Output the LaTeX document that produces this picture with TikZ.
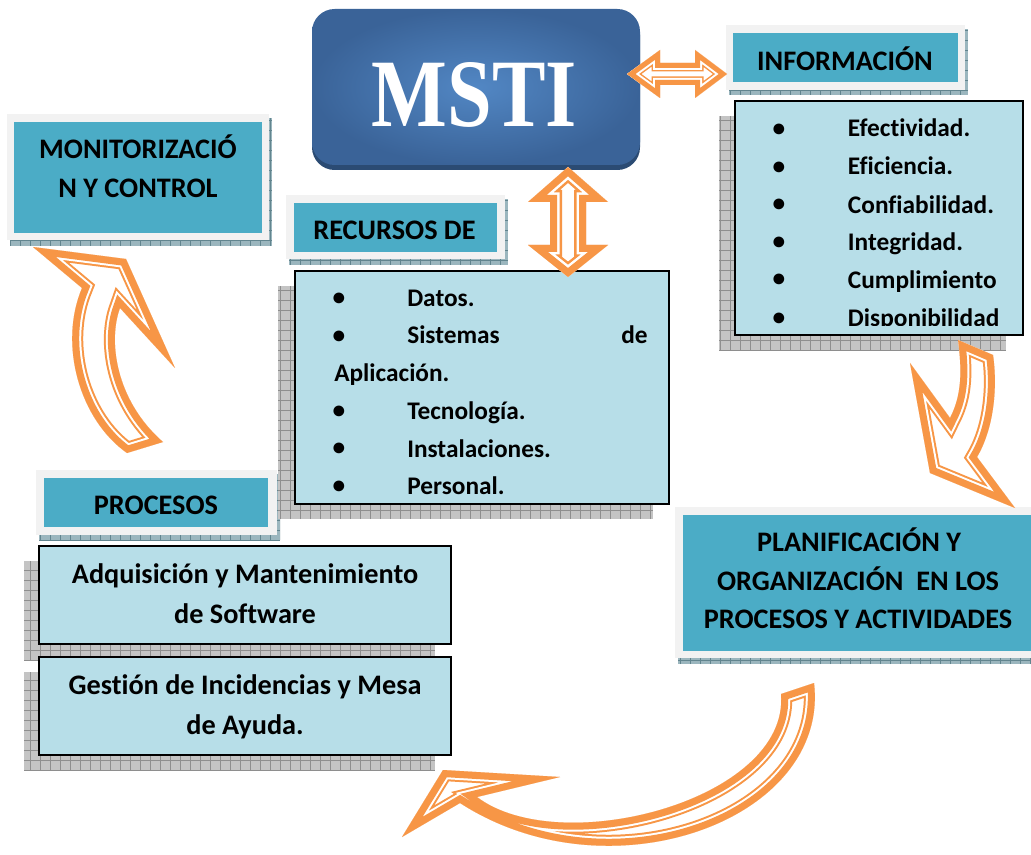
\documentclass[tikz,border=0pt]{standalone}
\usepackage{fontspec}
\setmainfont{Carlito}[Ligatures={NoCommon}]
\newfontfamily\mstifont{Liberation Serif}
\definecolor{tealc}{HTML}{4BACC6}
\definecolor{lblue}{HTML}{B7DEE8}
\definecolor{frameg}{HTML}{F2F2F2}
\definecolor{orangec}{HTML}{F79646}
\definecolor{mstiin}{HTML}{5287C4}
\definecolor{mstiout}{HTML}{3A6398}
\definecolor{mstibase}{HTML}{2B4B73}
\definecolor{hshad}{HTML}{9BB6BE}
\definecolor{hline}{HTML}{62858F}
\definecolor{lshad}{HTML}{C4C4C4}
\definecolor{lline}{HTML}{8E8E8E}
% x1 y1 x2 y2 (pixel coords, y down), fill colour, line colour
\newcommand{\gridshadow}[6]{%
  \begin{scope}
    \clip (#1,#2) rectangle (#3,#4);
    \fill[#5] (#1,#2) rectangle (#3,#4);
    \draw[#6, line width=0.4pt, step=7.5pt] (#1,#4) grid (#3,#2);
  \end{scope}}
% path, outer width, middle width, inner width
\newcommand{\fancyarrow}[4]{%
  \begin{scope}
    \clip #1;
    \fill[white] #1;
    \draw[orangec, line width=#2, miter limit=25] #1;
    \draw[white, line width=#3, miter limit=25] #1;
    \draw[orangec, line width=#4, miter limit=25] #1;
  \end{scope}}
\begin{document}
\begin{tikzpicture}[x=0.75pt,y=-0.75pt,
  hdrtxt/.style={font=\bfseries\fontsize{21.2}{25}\selectfont, inner sep=0pt, text height=13.4pt, text depth=0pt},
  listtxt/.style={font=\bfseries\fontsize{19}{23}\selectfont, inner sep=0pt, text height=12pt, text depth=0pt, anchor=west},
  bul/.style={font=\bfseries\fontsize{19}{23}\selectfont, inner sep=0pt},
  hdrframe/.style={fill=frameg},
  hdrbox/.style={fill=tealc},
  listbox/.style={fill=lblue, draw=black, line width=1.5pt}]

\clip (0,0) rectangle (1031,855);
\fill[white] (0,0) rectangle (1031,855);

% ---------- shadows ----------
\gridshadow{10}{118}{272}{246}{hshad}{hline}
\gridshadow{729}{29}{968}{95}{hshad}{hline}
\gridshadow{289}{199}{508}{265}{hshad}{hline}
\gridshadow{39}{474}{280}{540}{hshad}{hline}
\gridshadow{678}{511}{1043}{664}{hshad}{hline}
\gridshadow{719}{116}{1006}{351}{lshad}{lline}
\gridshadow{278}{286}{653}{519}{lshad}{lline}
\gridshadow{24}{561}{435}{660}{lshad}{lline}
\gridshadow{24}{672}{435}{770}{lshad}{lline}

% ---------- header boxes ----------
\fill[hdrframe] (7,114) rectangle (269,240);
\fill[hdrbox] (14,122) rectangle (262,233);
\fill[hdrframe] (726,25) rectangle (965,90);
\fill[hdrbox] (733,33) rectangle (958,82);
\fill[hdrframe] (286,195) rectangle (505,259);
\fill[hdrbox] (294,203) rectangle (497,252);
\fill[hdrframe] (36,470) rectangle (277,535);
\fill[hdrbox] (44,478) rectangle (268,527);
\fill[hdrframe] (675,507) rectangle (1040,658);
\fill[hdrbox] (683,515) rectangle (1040,651);

% ---------- list boxes ----------
\path[listbox] (735,101) rectangle (1023,335);
\path[listbox] (295,271) rectangle (669,504);
\path[listbox] (39,546) rectangle (451,644);
\path[listbox] (39,657) rectangle (451,755);

% ---------- MSTI ----------
\fill[mstibase, rounded corners=17pt] (312,12) rectangle (640,170);
\shade[rounded corners=17pt, inner color=mstiin, outer color=mstiout] (312,9) rectangle (640,165);
\node[font=\mstifont\bfseries\fontsize{72.5}{80}\selectfont, text=white, inner sep=0pt, text height=48pt, text depth=0pt] (msti) at (474.5,95) {\scalebox{0.83}[1]{MSTI}};

% ---------- header texts ----------
\node[hdrtxt] (mon1) at (138,150) {MONITORIZACIÓ};
\node[hdrtxt] (mon2) at (138,188.5) {N Y CONTROL};
\node[hdrtxt] (info) at (845,61.5) {INFORMACIÓN};
\node[hdrtxt] (rec) at (394.5,230.5) {RECURSOS DE};
\node[hdrtxt] (proc) at (156,506) {PROCESOS};
\node[hdrtxt] (plan1) at (859,542.5) {PLANIFICACIÓN Y};
\node[hdrtxt] (plan2) at (858,582) {ORGANIZACIÓN\ \ EN LOS};
\node[hdrtxt] (plan3) at (858,620) {PROCESOS Y ACTIVIDADES};
\node[hdrtxt] (adq1) at (245,575) {Adquisición y Mantenimiento};
\node[hdrtxt] (adq2) at (245,615) {de Software};
\node[hdrtxt] (ges1) at (245,686) {Gestión de Incidencias y Mesa};
\node[hdrtxt] (ges2) at (245,725.5) {de Ayuda.};

% ---------- INFORMACION list ----------
\begin{scope}
  \clip (735,101) rectangle (1023,326);
  \node[bul] (ib1) at (779,130) {•};
  \node[bul] (ib2) at (779,168) {•};
  \node[bul] (ib3) at (779,205.5) {•};
  \node[bul] (ib4) at (779,243) {•};
  \node[bul] (ib5) at (779,280.5) {•};
  \node[bul] (ib6) at (779,319) {•};
  \node[listtxt] (it1) at (847.7,128.5) {Efectividad.};
  \node[listtxt] (it2) at (847.7,167) {Eficiencia.};
  \node[listtxt] (it3) at (847.7,205.5) {Confiabilidad.};
  \node[listtxt] (it4) at (847.7,243) {Integridad.};
  \node[listtxt] (it5) at (847.7,281) {Cumplimiento};
  \node[listtxt] (it6) at (847.7,318.5) {Disponibilidad};
\end{scope}

% ---------- RECURSOS list ----------
\node[bul] (rb1) at (339,299) {•};
\node[bul] (rb2) at (339,337) {•};
\node[bul] (rb3) at (339,412) {•};
\node[bul] (rb4) at (339,449) {•};
\node[bul] (rb5) at (339,487) {•};
\node[listtxt] (rt1) at (407,299) {Datos.};
\node[listtxt] (rt2) at (407,336) {Sistemas};
\node[listtxt, anchor=east] (rt2b) at (648,336) {de};
\node[listtxt] (rt3) at (334,374) {Aplicación.};
\node[listtxt] (rt4) at (407,411) {Tecnología.};
\node[listtxt] (rt5) at (407,449) {Instalaciones.};
\node[listtxt] (rt6) at (407,486) {Personal.};

% ---------- arrows ----------
% horizontal double arrow MSTI <-> INFORMACION
\fancyarrow{(627,74) -- (660,50) -- (660,63) -- (695,63) -- (695,50) -- (727,74) -- (695,98) -- (695,85) -- (660,85) -- (660,98) -- cycle}{12.75pt}{10.5pt}{7.5pt}
% vertical double arrow MSTI <-> RECURSOS
\fancyarrow{(568,167) -- (608,202) -- (586,202) -- (586,245) -- (608,245) -- (568,277) -- (528,245) -- (550,245) -- (550,202) -- (528,202) -- cycle}{18pt}{14.25pt}{10.5pt}
% curved arrow up to MONITORIZACION
\fancyarrow{(33,247) -- (126,259) -- (175,368) -- (120,308) .. controls (108,340) and (115,400) .. (163,442) -- (127,453) .. controls (80,420) and (58,345) .. (82,288) -- cycle}{16.5pt}{13.5pt}{10.5pt}
% curved arrow down to PLANIFICACION
\fancyarrow{(958,340) -- (993,355) .. controls (998,390) and (993,430) .. (977,457) -- (1015,508) -- (930,473) -- (910,363) -- (950,418) .. controls (962,395) and (962,370) .. (958,340) -- cycle}{16.5pt}{13.5pt}{10.5pt}
% curved arrow at bottom back to PROCESOS
\fancyarrow{(402,837) -- (443,770) -- (560,777) -- (477,797) .. controls (560,860) and (790,800) .. (781,694) -- (814,683) .. controls (830,820) and (610,900) .. (460,803) -- cycle}{16.5pt}{13.5pt}{10.5pt}

\end{tikzpicture}
\end{document}
